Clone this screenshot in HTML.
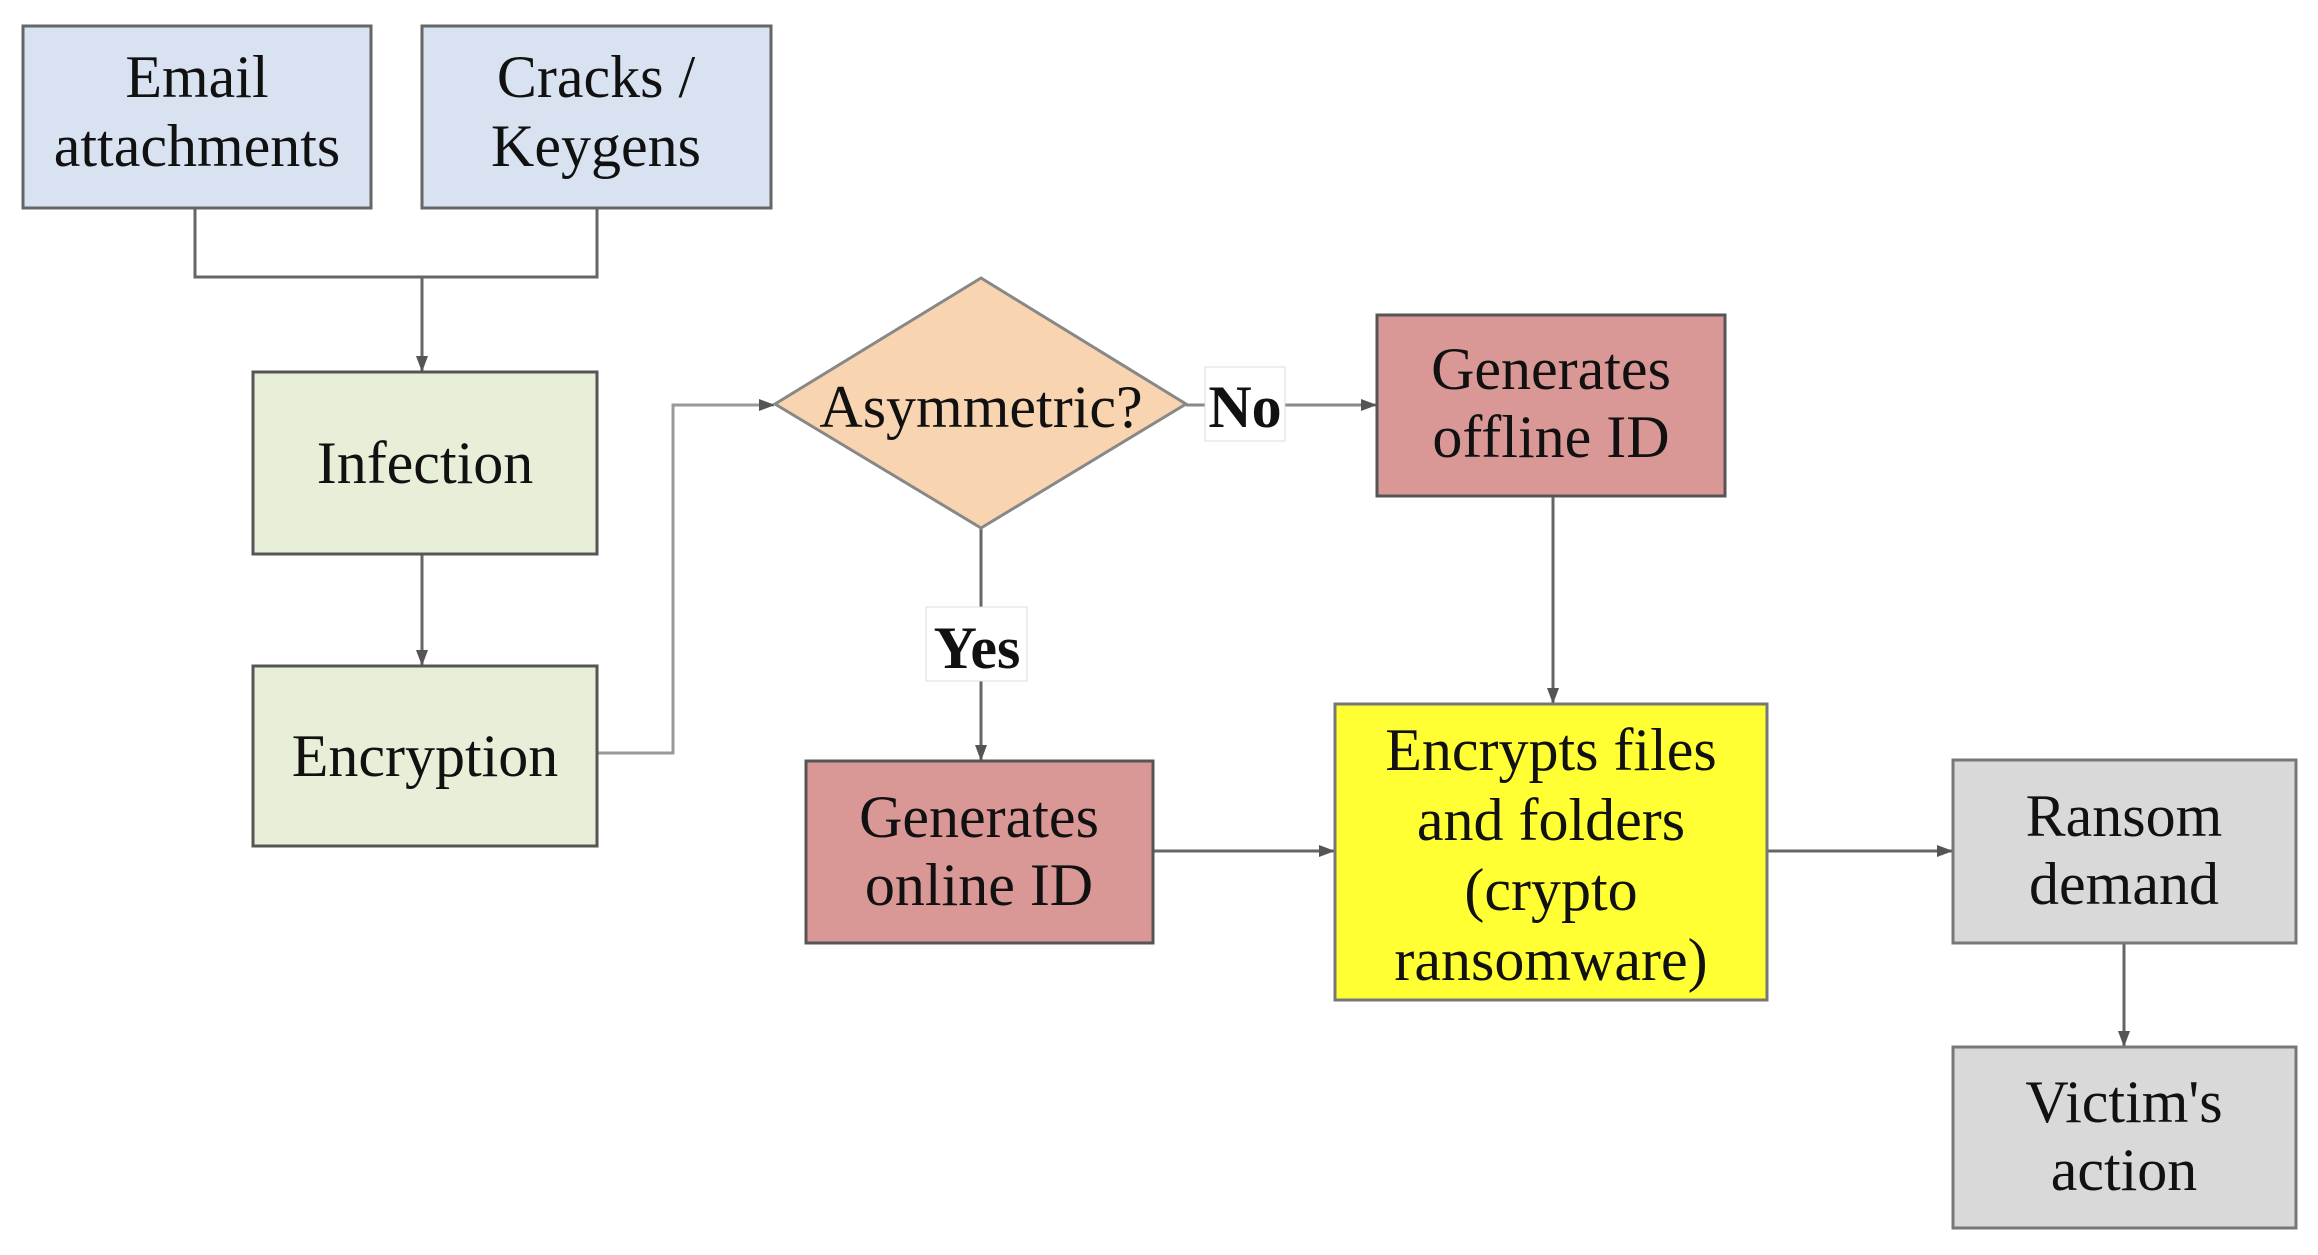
<!DOCTYPE html>
<html><head><meta charset="utf-8"><style>
html,body{margin:0;padding:0;background:#fff;}
svg{display:block}
text{font-family:"Liberation Serif",serif;font-size:60px;fill:#111;text-anchor:middle;}
</style></head><body>
<svg width="2318" height="1255" viewBox="0 0 2318 1255" xmlns="http://www.w3.org/2000/svg">
<defs>
<marker id="a" markerWidth="10" markerHeight="10" refX="9" refY="5" orient="auto" markerUnits="userSpaceOnUse" viewBox="0 0 10 10">
<path d="M0,0 L10,5 L0,10 z" fill="#555"/></marker>
<marker id="b" markerWidth="16" markerHeight="16" refX="15" refY="8" orient="auto" markerUnits="userSpaceOnUse" viewBox="0 0 16 16">
<path d="M0,2 L16,8 L0,14 z" fill="#555"/></marker>
</defs>
<g stroke="#666" stroke-width="3" fill="none">
<polyline points="195,208 195,277 597,277 597,208"/>
<line x1="422" y1="277" x2="422" y2="371" marker-end="url(#b)"/>
<line x1="422" y1="554" x2="422" y2="665" marker-end="url(#b)"/>
<polyline points="597,753 673,753 673,405 774,405" stroke="#999" marker-end="url(#b)"/>
<line x1="1186" y1="405" x2="1376" y2="405" stroke="#888" marker-end="url(#b)"/>
<line x1="981" y1="528" x2="981" y2="760" marker-end="url(#b)"/>
<line x1="1153" y1="851" x2="1334" y2="851" marker-end="url(#b)"/>
<line x1="1553" y1="496" x2="1553" y2="703" marker-end="url(#b)"/>
<line x1="1767" y1="851" x2="1952" y2="851" marker-end="url(#b)"/>
<line x1="2124" y1="943" x2="2124" y2="1046" marker-end="url(#b)"/>
</g>
<g stroke="#555" stroke-width="3">
<rect x="23" y="26" width="348" height="182" fill="#d8e2f0" stroke="#666"/>
<rect x="422" y="26" width="349" height="182" fill="#d8e2f0" stroke="#666"/>
<rect x="253" y="372" width="344" height="182" fill="#e7efd9"/>
<rect x="253" y="666" width="344" height="180" fill="#e7efd9"/>
<polygon points="775,404 981,278 1186,404 981,528" fill="#f9d4b1" stroke="#888"/>
<rect x="806" y="761" width="347" height="182" fill="#d99795"/>
<rect x="1377" y="315" width="348" height="181" fill="#d99795"/>
<rect x="1335" y="704" width="432" height="296" fill="#ffff33" stroke="#777"/>
<rect x="1953" y="760" width="343" height="183" fill="#d9d9d9" stroke="#777"/>
<rect x="1953" y="1047" width="343" height="181" fill="#d9d9d9" stroke="#777"/>
</g>
<rect x="1205" y="367" width="80" height="74" fill="#fff" stroke="#ddd" stroke-width="1"/>
<rect x="926" y="607" width="101" height="74" fill="#fff" stroke="#ddd" stroke-width="1"/>
<text x="197" y="97">Email</text>
<text x="197" y="166">attachments</text>
<text x="596" y="97">Cracks /</text>
<text x="596" y="166">Keygens</text>
<text x="425" y="483">Infection</text>
<text x="425" y="776">Encryption</text>
<text x="981" y="427">Asymmetric?</text>
<text x="1245" y="427" font-weight="bold">No</text>
<text x="977" y="668" font-weight="bold">Yes</text>
<text x="979" y="837">Generates</text>
<text x="979" y="905">online ID</text>
<text x="1551" y="389">Generates</text>
<text x="1551" y="457">offline ID</text>
<text x="1551" y="770">Encrypts files</text>
<text x="1551" y="840">and folders</text>
<text x="1551" y="910">(crypto</text>
<text x="1551" y="980">ransomware)</text>
<text x="2124" y="836">Ransom</text>
<text x="2124" y="904">demand</text>
<text x="2124" y="1122">Victim's</text>
<text x="2124" y="1190">action</text>
</svg>
</body></html>
